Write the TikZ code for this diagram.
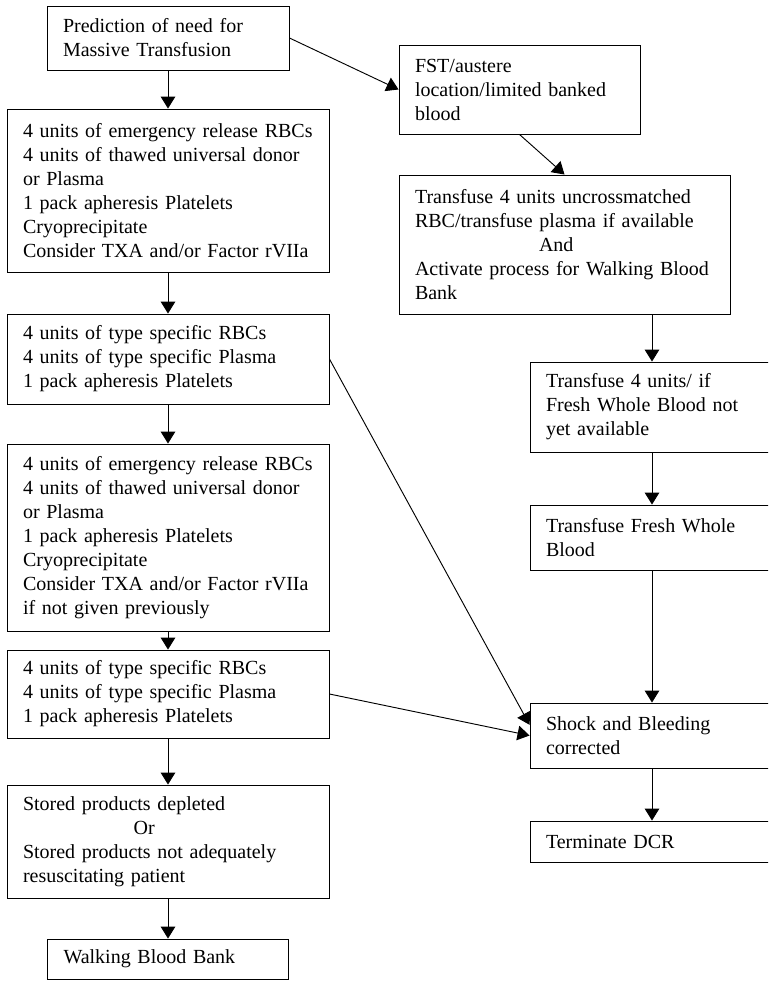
\documentclass[tikz,border=0pt]{standalone}
\usepackage{fontspec}
\setmainfont{Liberation Serif}
\usetikzlibrary{arrows.meta}

\tikzset{
  box/.style={draw, line width=0.7pt, align=left, inner xsep=12pt, inner ysep=0pt,
    font=\fontsize{15pt}{18pt}\selectfont},
  arr/.style={-{Triangle[length=9pt,width=11pt]}, line width=0.7pt},
}

\begin{document}
\begin{tikzpicture}[x=0.75pt,y=0.75pt,yscale=-1]
\useasboundingbox (0,0) rectangle (768,981);
\clip (0,0) rectangle (768,981);
% left column
\node[box,text width=157.5pt,minimum height=48pt] (1) at (168,38) {Prediction of need for\\Massive Transfusion};
\node[box,text width=217.5pt,minimum height=122.25pt] (2) at (168,190.5) {4 units of emergency release RBCs\\4 units of thawed universal donor\\or Plasma\\1 pack apheresis Platelets\\Cryoprecipitate\\Consider TXA and/or Factor rVIIa};
\node[box,text width=217.5pt,minimum height=67.5pt] (3) at (168,359) {4 units of type specific RBCs\\4 units of type specific Plasma\\1 pack apheresis Platelets};
\node[box,text width=217.5pt,minimum height=140.25pt] (4) at (168,537.5) {4 units of emergency release RBCs\\4 units of thawed universal donor\\or Plasma\\1 pack apheresis Platelets\\Cryoprecipitate\\Consider TXA and/or Factor rVIIa\\if not given previously};
\node[box,text width=217.5pt,minimum height=66pt] (5) at (168,694) {4 units of type specific RBCs\\4 units of type specific Plasma\\1 pack apheresis Platelets};
\node[box,text width=217.5pt,minimum height=84.75pt] (6) at (168,841.5) {Stored products depleted\\\hspace*{83pt}Or\\Stored products not adequately\\resuscitating patient};
\node[box,text width=156.75pt,minimum height=30pt] (7) at (168,959) {Walking Blood Bank};
% right column
\node[box,text width=156.75pt,minimum height=66.75pt] (8) at (519.5,89.5) {FST/austere\\location/limited banked\\blood};
\node[box,text width=224.25pt,minimum height=104.25pt] (9) at (564.5,244.5) {Transfuse 4 units uncrossmatched\\RBC/transfuse plasma if available\\\hspace*{93pt}And\\Activate process for Walking Blood\\Bank};
\node[box,text width=159pt,minimum height=67.5pt] (10) at (652,407) {Transfuse 4 units/ if\\Fresh Whole Blood not\\yet available};
\node[box,text width=159pt,minimum height=48.75pt] (11) at (652,537.5) {Transfuse Fresh Whole\\Blood};
\node[box,text width=159pt,minimum height=48.75pt] (12) at (652,735.5) {Shock and Bleeding\\corrected};
\node[box,text width=159pt,minimum height=30.75pt] (13) at (652,841.5) {Terminate DCR};
% arrows
\path[arr] (1.south) edge (2.north);
\path[arr] (2.south) edge (3.north);
\path[arr] (3.south) edge (4.north);
\path[arr] (4.south) edge (5.north);
\path[arr] (5.south) edge (6.north);
\path[arr] (6.south) edge (7.north);
\path[arr] (1.east) edge (8.west);
\path[arr] (8.south) edge (9.north);
\path[arr] (10.north |- 9.south) edge (10.north);
\path[arr] (10.south) edge (11.north);
\path[arr] (11.south) edge (12.north);
\path[arr] (12.south) edge (13.north);
\path[arr] (3.east) edge (12.175);
\path[arr] (5.east) edge (12.west);
\end{tikzpicture}
\end{document}
